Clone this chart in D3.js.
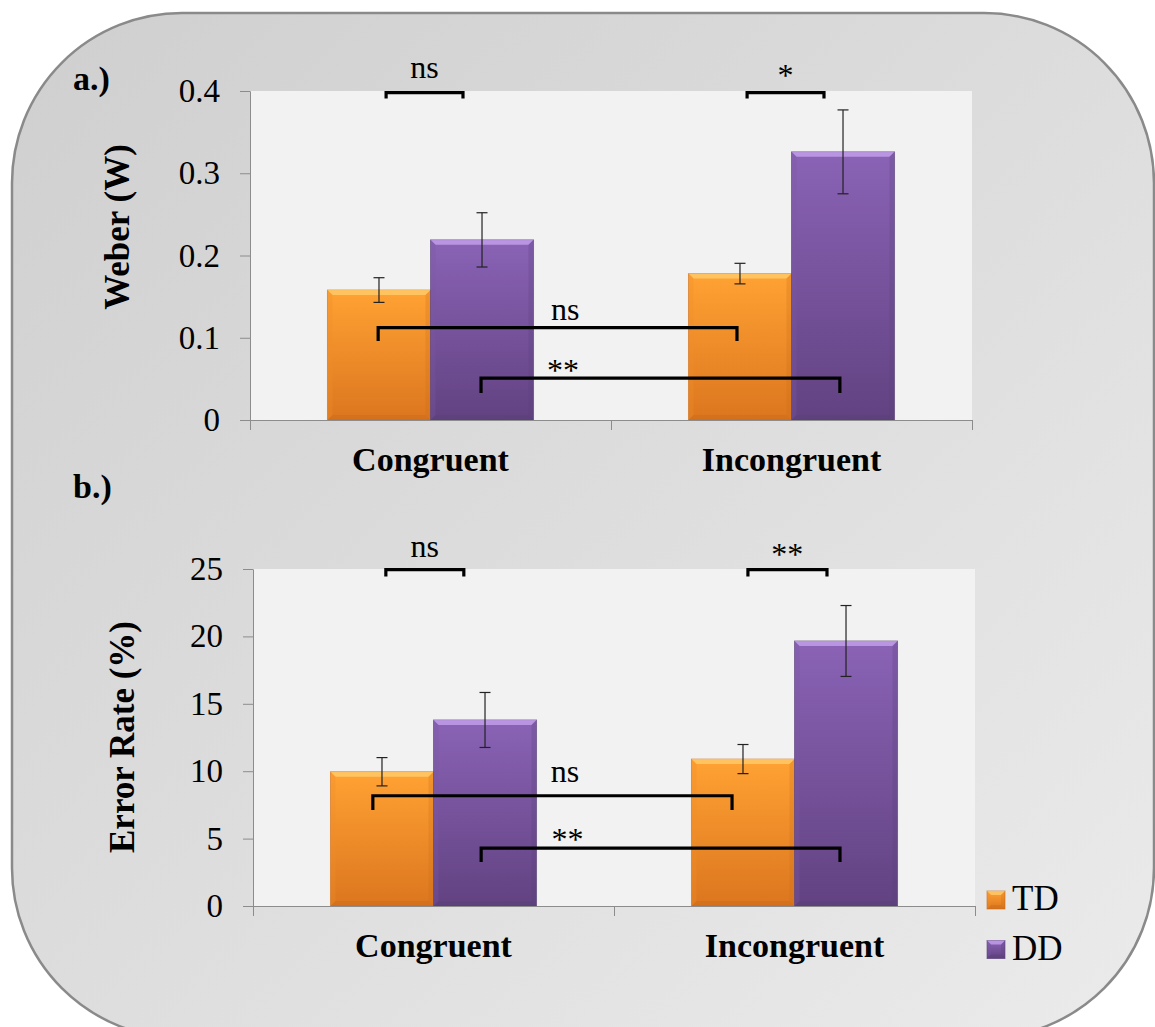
<!DOCTYPE html>
<html><head><meta charset="utf-8">
<script src="https://cdn.jsdelivr.net/npm/d3@7"></script>
<style>body{margin:0;background:#fff;} svg{display:block} svg text{font-family:"Liberation Serif", "Times New Roman", Times, serif;}</style>
</head><body><svg id="c" width="1155" height="1027"></svg>
<script>
// ---------- data ----------
const categories = ["Congruent", "Incongruent"];
const series = ["TD", "DD"];

const weberTD = [0.158, 0.178];
const weberDD = [0.219, 0.326];
const weberTDErr = [0.015, 0.0125];
const weberDDErr = [0.033, 0.051];
const weberTicks = [0, 0.1, 0.2, 0.3, 0.4];

const errTD = [9.96, 10.9];
const errDD = [13.8, 19.66];
const errTDErr = [1.05, 1.08];
const errDDErr = [2.04, 2.63];
const errTicks = [0, 5, 10, 15, 20, 25];

// significance brackets: from/to = [category, fraction of band], y = line level, leg = leg end level
const weberBrackets = [
  {from:["Congruent",0.377], to:["Congruent",0.590], y:0.398, leg:0.391, label:"ns", labelAt:["Congruent",0.4835], labelY:0.4155},
  {from:["Incongruent",0.377], to:["Incongruent",0.590], y:0.398, leg:0.391, label:"*", labelAt:["Incongruent",0.4835], labelY:0.406},
  {from:["Congruent",0.355], to:["Incongruent",0.349], y:0.1122, leg:0.096, label:"ns", labelAt:["Congruent",0.873], labelY:0.1216},
  {from:["Congruent",0.640], to:["Incongruent",0.634], y:0.051, leg:0.0328, label:"**", labelAt:["Congruent",0.867], labelY:0.0474}
];
const errBrackets = [
  {from:["Congruent",0.368], to:["Congruent",0.584], y:24.95, leg:24.45, label:"ns", labelAt:["Congruent",0.476], labelY:25.89},
  {from:["Incongruent",0.371], to:["Incongruent",0.590], y:24.95, leg:24.45, label:"**", labelAt:["Incongruent",0.48], labelY:25.3},
  {from:["Congruent",0.332], to:["Incongruent",0.327], y:8.18, leg:7.12, label:"ns", labelAt:["Congruent",0.864], labelY:9.2},
  {from:["Congruent",0.632], to:["Incongruent",0.626], y:4.30, leg:3.26, label:"**", labelAt:["Congruent",0.871], labelY:4.15}
];

// ---------- drawing ----------
const svg = d3.select("#c");
const defs = svg.append("defs");
const FONT = "Liberation Serif, Times New Roman, Times, serif";

const bgGrad = defs.append("linearGradient").attr("id","bgGrad")
  .attr("x1","0").attr("y1","0").attr("x2","1").attr("y2","1");
bgGrad.append("stop").attr("offset","0").attr("stop-color","#cfcfcf");
bgGrad.append("stop").attr("offset","1").attr("stop-color","#ebebeb");

const colors = {
  TD: {top:"#ffa233", bot:"#dc761f", hi:"#ffcf70", edge:"#c96a18", side:"#f0902a"},
  DD: {top:"#8a63b6", bot:"#624281", hi:"#c9a6f0", edge:"#574076", side:"#7a58a3"}
};
series.forEach(s => {
  const g = defs.append("linearGradient").attr("id","g"+s).attr("x1","0").attr("y1","0").attr("x2","0").attr("y2","1");
  g.append("stop").attr("offset","0").attr("stop-color",colors[s].top);
  g.append("stop").attr("offset","1").attr("stop-color",colors[s].bot);
});

svg.append("rect").attr("x",12).attr("y",13).attr("width",1142).attr("height",1025)
  .attr("rx",170).attr("ry",170).attr("fill","url(#bgGrad)")
  .attr("stroke","#8a8a8a").attr("stroke-width",2.5);

function bevelBar(g, x, y, w, h, s, bev) {
  const c = colors[s];
  const b = Math.min(bev || 5, h/2);
  g.append("rect").attr("x",x).attr("y",y).attr("width",w).attr("height",h)
    .attr("fill","url(#g"+s+")").attr("stroke",c.edge).attr("stroke-opacity",0.6).attr("stroke-width",1);
  g.append("path").attr("d",`M${x},${y}L${x+w},${y}L${x+w-b},${y+b}L${x+b},${y+b}Z`)
    .attr("fill",c.hi).attr("opacity",0.75);
  g.append("path").attr("d",`M${x},${y}L${x+b},${y+b}L${x+b},${y+h-b}L${x},${y+h}Z`)
    .attr("fill",c.side).attr("opacity",0.3);
  g.append("path").attr("d",`M${x+w},${y}L${x+w-b},${y+b}L${x+w-b},${y+h-b}L${x+w},${y+h}Z`)
    .attr("fill",c.edge).attr("opacity",0.25);
  g.append("path").attr("d",`M${x},${y+h}L${x+b},${y+h-b}L${x+w-b},${y+h-b}L${x+w},${y+h}Z`)
    .attr("fill",c.edge).attr("opacity",0.4);
}

function panel(cfg) {
  const g = svg.append("g");
  const x0 = d3.scaleBand().domain(categories).range([cfg.left, cfg.right]).paddingInner(0).paddingOuter(0);
  const x1 = d3.scaleBand().domain(series).range([0, x0.bandwidth()]).paddingInner(0).paddingOuter(0.752);
  const y = d3.scaleLinear().domain([0, cfg.max]).range([cfg.bottom, cfg.top]);

  g.append("rect").attr("x",cfg.left+1).attr("y",y(cfg.max)).attr("width",cfg.right-cfg.left-1)
    .attr("height",y(0)-y(cfg.max)).attr("fill","#f2f2f2");

  categories.forEach((cat,i) => {
    series.forEach(s => {
      const v = cfg.vals[s][i];
      const bx = x0(cat) + x1(s), bw = x1.bandwidth();
      bevelBar(g, bx, y(v), bw, y(0)-y(v), s);
    });
  });
  categories.forEach((cat,i) => {
    series.forEach(s => {
      const v = cfg.vals[s][i], e = cfg.errs[s][i];
      const cx = x0(cat) + x1(s) + x1.bandwidth()/2;
      const eg = g.append("g").attr("stroke","#222").attr("stroke-width",1.2);
      eg.append("line").attr("x1",cx).attr("x2",cx).attr("y1",y(v+e)).attr("y2",y(v-e));
      eg.append("line").attr("x1",cx-5.5).attr("x2",cx+5.5).attr("y1",y(v+e)).attr("y2",y(v+e));
      eg.append("line").attr("x1",cx-5.5).attr("x2",cx+5.5).attr("y1",y(v-e)).attr("y2",y(v-e));
    });
  });

  const ya = g.append("g").attr("transform",`translate(${cfg.left},0)`)
    .call(d3.axisLeft(y).tickValues(cfg.ticks).tickSize(10).tickSizeOuter(0).tickPadding(20).tickFormat(cfg.fmt));
  ya.attr("font-family",FONT).attr("font-size",33);
  ya.selectAll("path,line").attr("stroke","#8c8c8c");
  ya.selectAll("text").attr("font-family",FONT).attr("font-size",33).attr("fill","#000");

  const xl = d3.scaleLinear().domain([0, categories.length]).range([cfg.left, cfg.right]);
  const xa = g.append("g").attr("transform",`translate(0,${y(0)})`)
    .call(d3.axisBottom(xl).tickValues(d3.range(categories.length+1)).tickSize(10).tickSizeOuter(0).tickFormat(""));
  xa.selectAll("path,line").attr("stroke","#8c8c8c");

  g.selectAll(".cat").data(categories).enter().append("text")
    .attr("x", d => x0(d) + x0.bandwidth()/2).attr("y", y(0) + 51)
    .attr("text-anchor","middle").attr("font-family",FONT).attr("font-weight","bold")
    .attr("font-size",34).text(d => d);

  const bx = p => x0(p[0]) + p[1]*x0.bandwidth();
  cfg.brackets.forEach(b => {
    const xa1 = bx(b.from), xa2 = bx(b.to);
    g.append("path").attr("d",`M${xa1},${y(b.leg)}V${y(b.y)}H${xa2}V${y(b.leg)}`)
      .attr("fill","none").attr("stroke","#000").attr("stroke-width",3.2);
    g.append("text").attr("x",bx(b.labelAt)).attr("y",y(b.labelY))
      .attr("text-anchor","middle").attr("font-family",FONT).attr("font-size",32).text(b.label);
  });

  g.append("text").attr("transform",`translate(${cfg.ylx},${cfg.yly}) rotate(-90)`)
    .attr("text-anchor","middle").attr("dominant-baseline","central")
    .attr("font-family",FONT).attr("font-weight","bold").attr("font-size",35).text(cfg.ylabel);
  g.append("text").attr("x",73).attr("y",cfg.tagY).attr("font-family",FONT).attr("font-weight","bold")
    .attr("font-size",34).text(cfg.tag);
}

panel({left:250, right:972, top:91, bottom:420, max:0.4, ticks:weberTicks,
  fmt: d => d === 0 ? "0" : d3.format(".1f")(d),
  vals:{TD:weberTD, DD:weberDD}, errs:{TD:weberTDErr, DD:weberDDErr},
  brackets: weberBrackets, ylabel:"Weber (W)", ylx:117, yly:227, tag:"a.)", tagY:90});

panel({left:253, right:975, top:569, bottom:906, max:25, ticks:errTicks,
  fmt: d3.format("d"),
  vals:{TD:errTD, DD:errDD}, errs:{TD:errTDErr, DD:errDDErr},
  brackets: errBrackets, ylabel:"Error Rate (%)", ylx:122, yly:737, tag:"b.)", tagY:498});

const lg = svg.append("g");
series.forEach((s,i) => {
  const ly = 891 + i*49.5;
  bevelBar(lg, 987, ly, 18, 18, s, 4);
  lg.append("text").attr("x",1012).attr("y",ly+19).attr("font-family",FONT)
    .attr("font-size",35).text(s);
});
</script></body></html>
